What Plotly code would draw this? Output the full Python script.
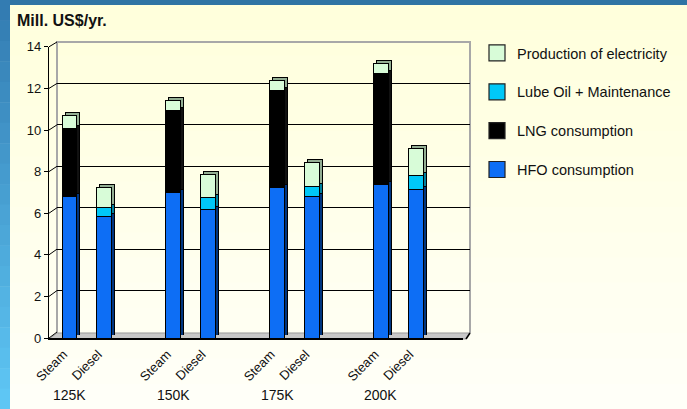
import plotly.graph_objects as go

# ---------------- data ----------------
groups = ["125K", "150K", "175K", "200K"]
types = ["Steam", "Diesel"]
# values in order: 125K Steam, 125K Diesel, 150K Steam, 150K Diesel, ...
hfo = [6.78, 5.83, 6.99, 6.19, 7.24, 6.79, 7.39, 7.15]
lng = [3.30, None, 3.97, None, 4.65, None, 5.34, None]
lube = [None, 0.45, None, 0.57, None, 0.48, None, 0.64]
elec = [0.62, 0.97, 0.48, 1.08, 0.48, 1.16, 0.47, 1.33]
y_ticks = [0, 2, 4, 6, 8, 10, 12, 14]

series = [
    ("HFO consumption", hfo, "#0D6EF5", "#00357F"),
    ("LNG consumption", lng, "#000000", "#111111"),
    ("Lube Oil + Maintenance", lube, "#00C8F8", "#00809E"),
    ("Production of electricity", elec, "#D8FCD8", "#93AE93"),
]
legend_rank = {"Production of electricity": 1, "Lube Oil + Maintenance": 2,
               "LNG consumption": 3, "HFO consumption": 4}

# ---------------- layout helpers (pixels -> paper) ----------------
W, H = 687, 409
ML, MR, MT, MB = 40, 207, 30, 60
PW, PH = W - ML - MR, H - MT - MB


def px(x):
    return (x - ML) / PW


def py(y):
    return (H - MB - y) / PH


FONT = "Liberation Sans, Arial, Helvetica, sans-serif"

# category positions with a gap between groups
pos = [3 * gi + ti for gi in range(len(groups)) for ti in range(len(types))]
tick_text = [t for _ in groups for t in types]

# front (bars) plane
FX0, FX1, FY0, FY1 = 49, 463, 338, 46.8
# back wall plane
BX0, BX1, BY0, BY1 = 57, 470, 332, 42
# shadow (3D side) offset
DX, DY = 3, 3

xr = [-0.593, 11.37]
yr = [0, 14]

fig = go.Figure()

# shadow traces (subplot x2/y2), drawn behind front bars
for name, vals, col, dark in series:
    fig.add_trace(go.Bar(
        x=pos, y=vals, name=name, legendgroup=name, showlegend=False,
        marker=dict(color=dark, line=dict(color="#000000", width=1)),
        width=0.43, xaxis="x2", yaxis="y2", hoverinfo="skip",
    ))

# front bars (subplot x3/y3)
for name, vals, col, dark in series:
    fig.add_trace(go.Bar(
        x=pos, y=vals, name=name, legendgroup=name, showlegend=False,
        marker=dict(color=col, line=dict(color="#000000", width=1)),
        width=0.43, xaxis="x3", yaxis="y3",
    ))

# legend entries (square swatches)
for name, vals, col, dark in series:
    fig.add_trace(go.Scatter(
        x=[None], y=[None], mode="markers", name=name, legendgroup=name,
        legendrank=legend_rank[name],
        marker=dict(symbol="square", size=16, color=col,
                    line=dict(color="#222222", width=1.2)),
        xaxis="x3", yaxis="y3", hoverinfo="skip",
    ))

# dummy trace for back wall subplot so its grid shows
fig.add_trace(go.Scatter(x=[None], y=[None], xaxis="x", yaxis="y",
                         showlegend=False, hoverinfo="skip"))

shapes = []
# outer blue frame: top strip and left gradient strip
shapes.append(dict(type="rect", xref="paper", yref="paper",
                   x0=px(0), x1=px(W), y0=py(6), y1=py(0),
                   fillcolor="#2F74A4", line=dict(width=0), layer="below"))
nb = 20
c0 = (0x33, 0x7C, 0xB2)
c1 = (0x5E, 0xC6, 0xF4)
for i in range(nb):
    t = i / (nb - 1)
    c = tuple(int(round(c0[k] + (c1[k] - c0[k]) * t)) for k in range(3))
    ya = 0 + i * H / nb
    yb = ya + H / nb + 0.5
    shapes.append(dict(type="rect", xref="paper", yref="paper",
                       x0=px(0), x1=px(10), y0=py(yb), y1=py(ya),
                       fillcolor="rgb(%d,%d,%d)" % c, line=dict(width=0), layer="below"))
# yellow panel gradient
p0 = (0xFF, 0xFF, 0xDC)
p1 = (0xFF, 0xFF, 0xF8)
nb2 = 16
for i in range(nb2):
    t = i / (nb2 - 1)
    c = tuple(int(round(p0[k] + (p1[k] - p0[k]) * t)) for k in range(3))
    ya = 5 + i * (H - 5) / nb2
    yb = ya + (H - 5) / nb2 + 0.5
    shapes.append(dict(type="rect", xref="paper", yref="paper",
                       x0=px(10), x1=px(W), y0=py(min(yb, H)), y1=py(ya),
                       fillcolor="rgb(%d,%d,%d)" % c, line=dict(width=0), layer="below"))
# back wall border (gray)
shapes.append(dict(type="path", xref="paper", yref="paper",
                   path="M %f %f L %f %f L %f %f L %f %f" % (
                       px(BX0), py(BY0 + 1), px(BX0), py(BY1), px(BX1), py(BY1), px(BX1), py(BY0 + 1)),
                   line=dict(color="#A8A8A8", width=2), layer="below"))
# floor
shapes.append(dict(type="path", xref="paper", yref="paper",
                   path="M %f %f L %f %f L %f %f L %f %f Z" % (
                       px(FX0), py(FY0 + 1), px(FX1 + 3), py(FY0 + 1),
                       px(BX1), py(BY0 + 1), px(BX0), py(BY0 + 1)),
                   fillcolor="#C8C8C8", line=dict(color="#9A9A9A", width=1), layer="below"))
shapes.append(dict(type="line", xref="paper", yref="paper",
                   x0=px(FX1 + 3), y0=py(FY0 + 1), x1=px(BX1), y1=py(BY0 + 1),
                   line=dict(color="#000000", width=1.5), layer="above"))
# small diagonal connectors from front ticks to back wall
for v in y_ticks:
    yf = FY0 - (FY0 - FY1) * v / 14
    yb = BY0 - (BY0 - BY1) * v / 14
    shapes.append(dict(type="line", xref="paper", yref="paper",
                       x0=px(FX0), y0=py(yf), x1=px(BX0), y1=py(yb),
                       line=dict(color="#000000", width=1), layer="above"))

annotations = [
    dict(text="<b>Mill. US$/yr.</b>", xref="paper", yref="paper",
         x=px(15), y=py(20), xanchor="left", yanchor="middle", showarrow=False,
         font=dict(family=FONT, size=16, color="#111111")),
]
for gi, g in enumerate(groups):
    annotations.append(dict(text=g, xref="x3", yref="paper", x=pos[gi * len(types)],
                            y=py(395), xanchor="center", yanchor="middle", showarrow=False,
                            font=dict(family=FONT, size=14, color="#111111")))


def dom_x(a, b):
    return [px(a), px(b)]


def dom_y(bottom, top):
    return [py(bottom), py(top)]


fig.update_layout(
    width=W, height=H,
    margin=dict(l=ML, r=MR, t=MT, b=MB, autoexpand=False),
    paper_bgcolor="#FFFFEE",
    plot_bgcolor="rgba(0,0,0,0)",
    barmode="stack",
    showlegend=True,
    legend=dict(x=px(477), y=py(37), xanchor="left", yanchor="top",
                traceorder="grouped", tracegroupgap=17, itemsizing="trace",
                font=dict(family=FONT, size=14.5, color="#111111"),
                bgcolor="rgba(0,0,0,0)"),
    shapes=shapes,
    annotations=annotations,
    # back wall subplot
    xaxis=dict(domain=dom_x(BX0, BX1), range=xr, visible=False, anchor="y"),
    yaxis=dict(domain=dom_y(BY0, BY1), range=yr, anchor="x", tickvals=y_ticks[1:-1],
               showgrid=True, gridcolor="#000000", gridwidth=1.3,
               showticklabels=False, ticks="", zeroline=False, showline=False),
    # shadow subplot
    xaxis2=dict(domain=dom_x(FX0 + DX, FX1 + DX), range=xr, visible=False, anchor="y2"),
    yaxis2=dict(domain=dom_y(FY0 - DY, FY1 - DY), range=yr, visible=False, anchor="x2"),
    # front subplot
    xaxis3=dict(domain=dom_x(FX0, FX1), range=xr, anchor="y3",
                tickvals=pos, ticktext=tick_text, tickangle=-45,
                ticklabelshift=-6, ticklabelstandoff=2,
                showline=True, linecolor="#000000", linewidth=1.5,
                ticks="", showgrid=False, zeroline=False,
                tickfont=dict(family=FONT, size=13, color="#111111")),
    yaxis3=dict(domain=dom_y(FY0, FY1), range=yr, anchor="x3",
                tickvals=y_ticks, ticks="outside", ticklen=4, tickcolor="#000000",
                showline=True, linecolor="#000000", linewidth=1.3,
                showgrid=False, zeroline=False,
                tickfont=dict(family=FONT, size=13, color="#111111")),
)

fig.write_html("out.html")
